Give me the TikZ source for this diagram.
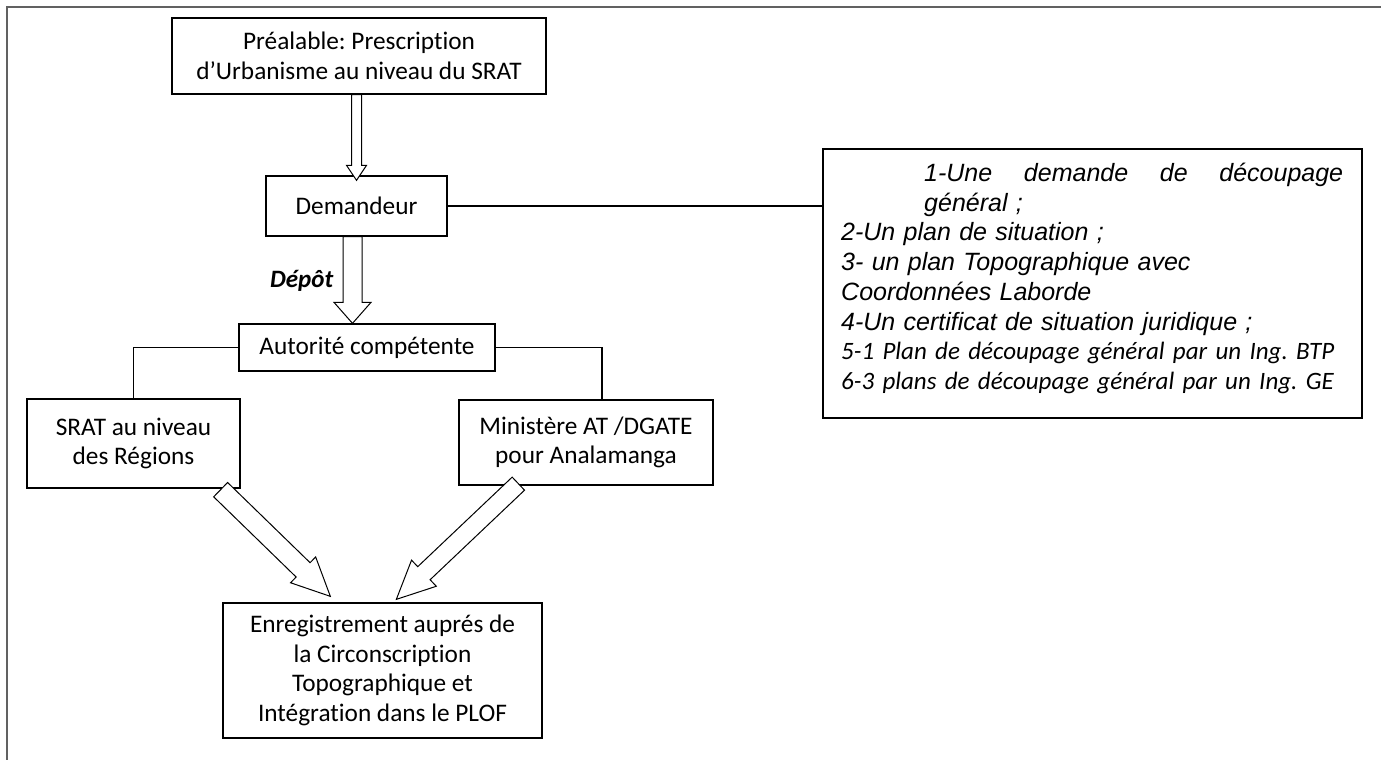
\documentclass[tikz,border=0pt]{standalone}
\usepackage{fontspec}
\setmainfont{Carlito}[Ligatures=NoCommon]
\newfontfamily\arialfont{Liberation Sans}[Ligatures=NoCommon]
\usetikzlibrary{calc}
\frenchspacing
\tikzset{
  box/.style={draw=black, line width=1.3pt, align=center, inner sep=0pt, font=\fontsize{25.3}{29.5}\selectfont},
  link/.style={draw=black, line width=1.3pt},
  barrowstyle/.style={draw=black, line width=1pt, fill=white, line join=miter},
  outerframe/.style={draw=black!62, line width=2pt},
}
\newcommand\blockarrow[5]{%
  \coordinate (ba-h) at ($(#2)!#5!(#1)$);
  \draw[barrowstyle] ($(#1)!#3!90:(#2)$) -- ($(ba-h)!#3!-90:(#1)$) -- ($(ba-h)!#4!-90:(#1)$) -- (#2)
     -- ($(ba-h)!#4!90:(#1)$) -- ($(ba-h)!#3!90:(#1)$) -- ($(#1)!#3!-90:(#2)$) -- cycle;
}
\begin{document}
\begin{tikzpicture}[x=1pt, y=-1pt]
\useasboundingbox (0,0) rectangle (1381,760);
\draw[outerframe] (6.5,760) -- (6.5,7.5) -- (1381,7.5);

\node[box, minimum width=374pt, minimum height=76pt] (pre) at (359,56) {Préalable: Prescription\\d’Urbanisme au niveau du SRAT};
\node[box, minimum width=181pt, minimum height=60pt] (dem) at (356.5,206) {Demandeur};
\node[box, minimum width=256pt, minimum height=47pt] (aut) at (367,347.5) {Autorité compétente};
\node[box, minimum width=213pt, minimum height=89pt] (srat) at (133.5,443.5) {SRAT au niveau\\des Régions};
\node[box, minimum width=254pt, minimum height=85pt] (min) at (586,442.5) {Ministère AT /DGATE\\pour Analamanga};
\node[box, minimum width=319pt, minimum height=135pt] (reg) at (382.5,670.5) {Enregistrement auprés de\\la Circonscription\\Topographique et\\Intégration dans le PLOF};

\node[draw=black, line width=1.3pt, minimum width=539pt, minimum height=269pt, inner sep=0pt] (req) at (1092.5,283.5) {};
\node[anchor=base west, text width=503pt, align=left, inner sep=0pt,
      font=\arialfont\itshape\fontsize{25}{29.7}\selectfont] (reqtext) at (841,181.5)
  {\hspace*{83pt}\hbox to 419pt{1-Une\hfill demande\hfill de\hfill découpage}\\
   \hspace*{83pt}général ;\\
   2-Un plan de situation ;\\
   3- un plan Topographique avec\\
   Coordonnées Laborde\\
   4-Un certificat de situation juridique ;\\
   {\normalfont\itshape 5-1 Plan de découpage général par un Ing. BTP\\
   6-3 plans de découpage général par un Ing. GE}};

\draw[link] (dem.east) -- (dem.east -| req.west);
\draw[link] (aut.west) -| (srat.north);
\coordinate (minin) at ($(min.north)+(16,0)$);
\draw[link] (aut.east) -| (minin);

\coordinate (a1s) at (dem.north |- pre.south);
\coordinate (a1e) at ($(dem.north)+(0,5)$);
\blockarrow{a1s}{a1e}{5pt}{10pt}{15pt}

\coordinate (a2s) at ($(dem.south)+(-4,0)$);
\coordinate (a2e) at (a2s |- aut.north);
\blockarrow{a2s}{a2e}{9.5pt}{18.5pt}{21pt}
\node[font=\bfseries\itshape\fontsize{25}{29}\selectfont, anchor=east, inner sep=0pt] (depot) at ($(a2s)+(-19,44)$) {Dépôt};

\coordinate (a3s) at ($(srat.south east)+(-20,1)$);
\coordinate (a3e) at ($(reg.north west)+(108,-6)$);
\blockarrow{a3s}{a3e}{10pt}{18pt}{38pt}

\coordinate (a4s) at ($(min.south west)+(60,-2)$);
\coordinate (a4e) at ($(reg.north west)+(174,-3)$);
\blockarrow{a4s}{a4e}{9pt}{18pt}{38pt}
\end{tikzpicture}
\end{document}
